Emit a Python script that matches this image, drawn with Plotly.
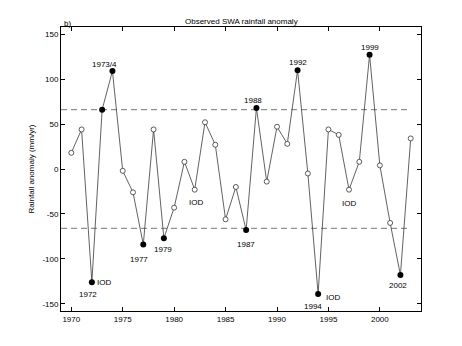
import plotly.graph_objects as go

years = list(range(1970, 2004))
anomaly = [18, 44, -126, 66, 109, -2, -26, -84, 44, -77,
           -43, 8, -23, 52, 27, -56, -20, -68, 68, -14,
           47, 28, 110, -5, -139, 44, 38, -23, 8, 127,
           4, -60, -118, 34]
highlight_years = [1972, 1973, 1974, 1977, 1979, 1987, 1988, 1992, 1994, 1999, 2002]
std_level = 66

label_text = ["1973/4", "1972", "IOD", "1977", "1979", "IOD", "1987", "1988",
              "1992", "1994", "IOD", "IOD", "1999", "2002"]
label_x = [1973.2, 1971.6, 1973.2, 1976.6, 1978.9, 1982.1, 1987.0, 1987.7,
           1992.0, 1993.5, 1995.4, 1997.0, 1999.0, 2001.8]
label_y = [116, -140, -126, -101, -90, -37, -84, 76,
           119, -153, -143, -38, 135, -130]

yticks = [-150, -100, -50, 0, 50, 100, 150]
ytick_text = ["-150", "-100", "-50", "0", "50", "100", "150"]
xticks = [1970, 1975, 1980, 1985, 1990, 1995, 2000]

font = dict(family="Liberation Sans, Arial, sans-serif", size=8, color="black")

open_x = [y for y in years if y not in highlight_years]
open_y = [a for y, a in zip(years, anomaly) if y not in highlight_years]
fill_x = [y for y in years if y in highlight_years]
fill_y = [a for y, a in zip(years, anomaly) if y in highlight_years]

fig = go.Figure()
for lvl in (std_level, -std_level):
    fig.add_trace(go.Scatter(x=[1969, 2003], y=[lvl, lvl], mode="lines",
                             line=dict(color="#555555", width=0.8, dash="6px,4px"),
                             hoverinfo="skip", showlegend=False))
fig.add_trace(go.Scatter(x=years, y=anomaly, mode="lines",
                         line=dict(color="#3a3a3a", width=0.8), showlegend=False))
fig.add_trace(go.Scatter(x=open_x, y=open_y, mode="markers",
                         marker=dict(symbol="circle", size=5, color="white",
                                     line=dict(color="#333333", width=0.8)),
                         showlegend=False))
fig.add_trace(go.Scatter(x=fill_x, y=fill_y, mode="markers",
                         marker=dict(symbol="circle", size=6, color="black",
                                     line=dict(color="black", width=0)),
                         showlegend=False))

for t, x, y in zip(label_text, label_x, label_y):
    fig.add_annotation(x=x, y=y, text=t, showarrow=False, xref="x", yref="y",
                       font=font)

fig.add_annotation(x=0.5, y=1.0, xref="paper", yref="paper", yshift=12,
                   text="Observed SWA rainfall anomaly", showarrow=False, font=font)
fig.add_annotation(x=0.0, y=1.0, xref="paper", yref="paper", yshift=10, xanchor="left",
                   xshift=1, text="b)", showarrow=False, font=font)

fig.update_layout(
    width=462, height=346,
    margin=dict(l=61, r=41, t=27, b=35),
    paper_bgcolor="white", plot_bgcolor="white",
    font=font,
    showlegend=False,
)
fig.update_xaxes(range=[1969, 2004], tickvals=xticks, ticks="inside", ticklen=4,
                 tickcolor="black", showline=True, linecolor="black", linewidth=1,
                 mirror="ticks", showgrid=False, zeroline=False, tickfont=font)
fig.update_yaxes(range=[-158, 158], tickvals=yticks, ticktext=ytick_text,
                 ticks="inside", ticklen=4, tickcolor="black", showline=True,
                 linecolor="black", linewidth=1, mirror="ticks", showgrid=False,
                 zeroline=False, tickfont=font,
                 title=dict(text="Rainfall anomaly (mm/yr)", font=font, standoff=6))

fig.write_html("out.html")
